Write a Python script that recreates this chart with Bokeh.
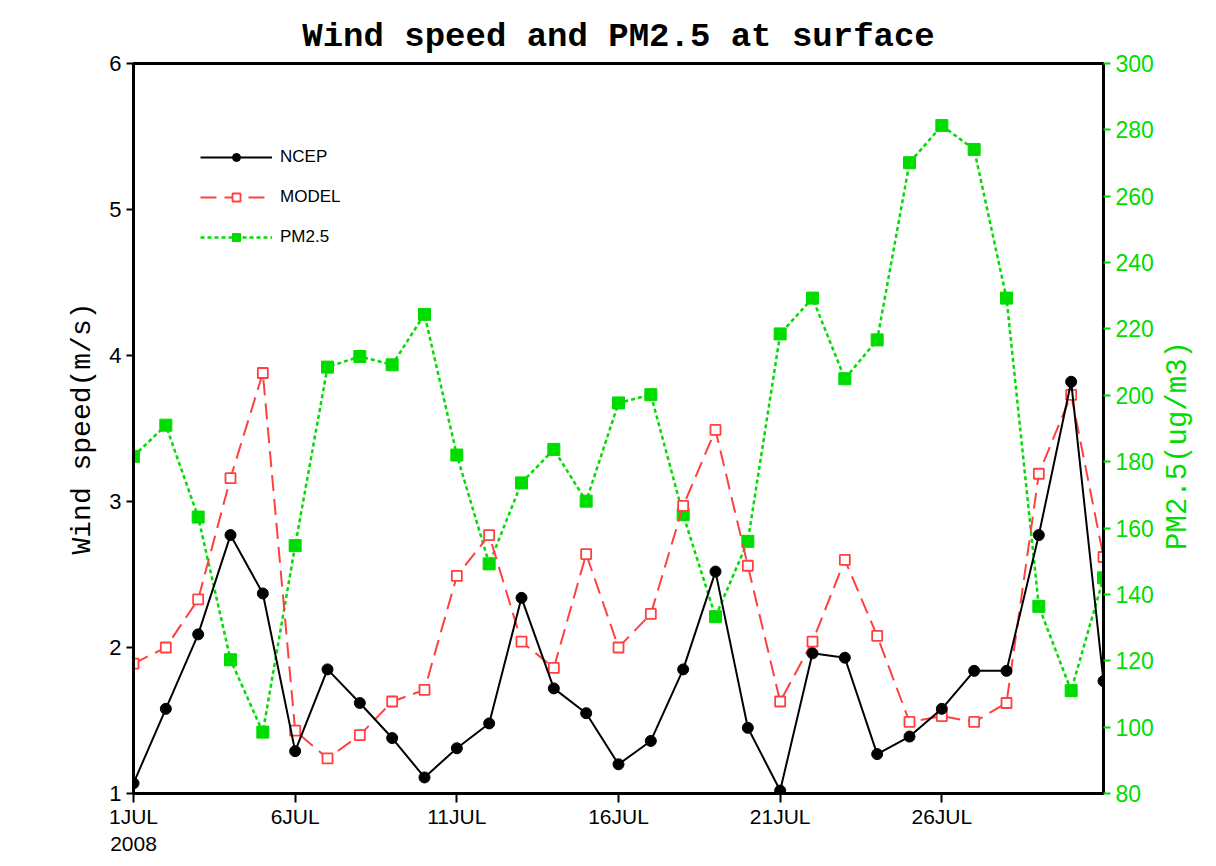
import math
from bokeh.plotting import figure
from bokeh.models import (Range1d, LinearAxis, FixedTicker, Legend, LegendItem,
                          ColumnDataSource)
from bokeh.embed import file_html
from bokeh.resources import INLINE

# ---- data ----
days = list(range(1, 32))
ncep = [1.07, 1.58, 2.09, 2.77, 2.37, 1.29, 1.85, 1.62, 1.38, 1.11,
        1.31, 1.48, 2.34, 1.72, 1.55, 1.20, 1.36, 1.85, 2.52, 1.45,
        1.02, 1.96, 1.93, 1.27, 1.39, 1.58, 1.84, 1.84, 2.77, 3.82,
        1.77]
model = [1.89, 2.00, 2.33, 3.16, 3.88, 1.43, 1.24, 1.40, 1.63, 1.71,
         2.49, 2.77, 2.04, 1.86, 2.64, 2.00, 2.23, 2.97, 3.49, 2.56,
         1.63, 2.04, 2.60, 2.08, 1.49, 1.53, 1.49, 1.62, 3.19, 3.73,
         2.62]
pm25 = [181.6, 191.0, 163.3, 120.3, 98.5, 154.7, 208.5, 211.7, 209.2, 224.4,
        182.0, 149.2, 173.6, 183.7, 168.1, 197.7, 200.2, 164.0, 133.3, 156.0,
        218.5, 229.3, 205.0, 216.7, 270.1, 281.3, 274.1, 229.3, 136.4, 111.0,
        145.0]
tick_days = [1, 6, 11, 16, 21, 26]
tick_labels = ["1JUL\n2008", "6JUL", "11JUL", "16JUL", "21JUL", "26JUL"]
wind_ticks = [1, 2, 3, 4, 5, 6]
pm_ticks = list(range(80, 301, 20))

RED = "#ff4040"
GREEN = "#00dc00"
MONO = "Liberation Mono"
SANS = "Liberation Sans"

src = ColumnDataSource(dict(day=days, ncep=ncep, model=model, pm=pm25))

p = figure(width=1216, height=866, output_backend="svg", toolbar_location=None,
           x_range=Range1d(1, 31), y_range=Range1d(1, 6),
           min_border_left=133, min_border_right=113,
           min_border_top=63, min_border_bottom=73,
           title="Wind speed and PM2.5 at surface")
p.extra_y_ranges = {"pm": Range1d(80, 300)}
p.grid.visible = False
p.outline_line_color = "black"
p.outline_line_width = 3
p.background_fill_color = "white"
p.border_fill_color = "white"

p.title.align = "center"
p.title.text_font = MONO
p.title.text_font_style = "bold"
p.title.text_font_size = "34px"
p.title.text_color = "black"
p.title.standoff = 15

# x axis
xa = p.xaxis[0]
xa.ticker = FixedTicker(ticks=tick_days, minor_ticks=[])
xa.major_label_overrides = {d: l for d, l in zip(tick_days, tick_labels)}
xa.major_label_text_font = SANS
xa.major_label_text_font_size = "21px"
xa.major_label_text_color = "black"
xa.major_label_standoff = 2
xa.major_tick_in = 0
xa.major_tick_out = 9
xa.major_tick_line_width = 2
xa.axis_line_width = 3
xa.axis_line_color = "black"

# left y axis
ya = p.yaxis[0]
ya.ticker = FixedTicker(ticks=wind_ticks, minor_ticks=[])
ya.axis_label = "Wind speed(m/s)"
ya.axis_label_text_font = MONO
ya.axis_label_text_font_style = "normal"
ya.axis_label_text_font_size = "28px"
ya.axis_label_text_color = "black"
ya.axis_label_standoff = 8
ya.major_label_text_font = SANS
ya.major_label_text_font_size = "22px"
ya.major_label_text_color = "black"
ya.major_label_standoff = 5
ya.major_tick_in = 0
ya.major_tick_out = 7
ya.major_tick_line_width = 2
ya.axis_line_width = 3

# right y axis
ra = LinearAxis(y_range_name="pm", axis_label="PM2.5(ug/m3)")
ra.ticker = FixedTicker(ticks=pm_ticks, minor_ticks=[])
ra.axis_label_text_font = MONO
ra.axis_label_text_font_style = "normal"
ra.axis_label_text_font_size = "29px"
ra.axis_label_text_color = GREEN
ra.axis_label_standoff = 22
props = ra.properties()
if "axis_label_orientation" in props and "axis_label_align" in props:
    # read upwards like the reference; padded with no-break spaces so that the
    # visible words sit at the middle of the axis
    ra.axis_label = "\u00a0" * 14 + "PM2.5(ug/m3)"
    ra.axis_label_orientation = math.pi / 2
    ra.axis_label_align = "start"
ra.major_label_text_font = SANS
ra.major_label_text_font_size = "23px"
ra.major_label_text_color = GREEN
ra.major_label_standoff = 5
ra.major_tick_in = 0
ra.major_tick_out = 7
ra.major_tick_line_color = GREEN
ra.major_tick_line_width = 2
ra.axis_line_width = 3
ra.axis_line_color = "black"
p.add_layout(ra, "right")

# series
l_pm = p.line("day", "pm", source=src, y_range_name="pm", line_color=GREEN,
              line_width=2.5, line_dash="4 3")
s_pm = p.scatter("day", "pm", source=src, y_range_name="pm", marker="square",
                 size=12, fill_color=GREEN, line_color=GREEN)
l_mod = p.line("day", "model", source=src, line_color=RED, line_width=2,
               line_dash="16 8")
s_mod = p.scatter("day", "model", source=src, marker="square", size=10,
                  fill_color="white", line_color=RED, line_width=1.8)
l_nc = p.line("day", "ncep", source=src, line_color="black", line_width=2)
s_nc = p.scatter("day", "ncep", source=src, marker="circle", size=11,
                 fill_color="black", line_color="black")

legend = Legend(items=[
    LegendItem(label="NCEP", renderers=[l_nc, s_nc]),
    LegendItem(label="MODEL", renderers=[l_mod, s_mod]),
    LegendItem(label="PM2.5", renderers=[l_pm, s_pm]),
], location=(67, 546), orientation="vertical")
legend.border_line_color = None
legend.background_fill_alpha = 0
legend.padding = 0
legend.margin = 0
legend.glyph_width = 72
legend.glyph_height = 20
legend.label_height = 20
legend.spacing = 20
legend.label_standoff = 8
legend.label_text_font = SANS
legend.label_text_font_size = "17px"
legend.label_text_color = "black"
p.add_layout(legend, "center")

open("out.html", "w").write(file_html(p, INLINE))
